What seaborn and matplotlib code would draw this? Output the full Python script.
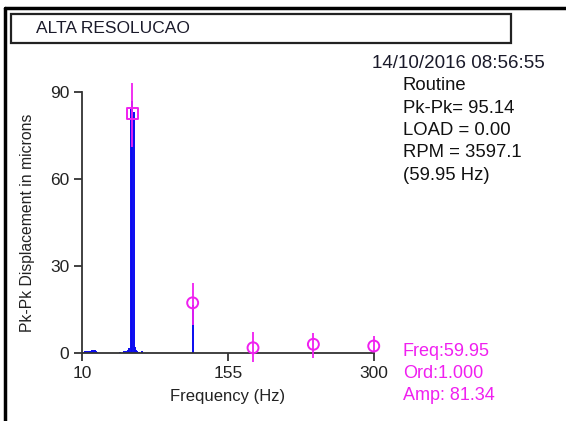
import matplotlib
matplotlib.use("Agg")
import matplotlib.pyplot as plt
import seaborn as sns
import numpy as np
from matplotlib.patches import Rectangle
from matplotlib.lines import Line2D

# ---- data ----
spec_freq = [11, 12, 13, 14, 15, 16, 17, 18, 19, 20, 21, 22, 23, 24, 25,
             48, 52, 54, 56, 57, 58.6, 59.95, 61.3, 62.5, 63.5, 65, 67, 70,
             119.9]
spec_amp = [0.5, 0.4, 0.6, 0.5, 0.7, 0.5, 0.6, 0.8, 0.6, 0.9, 0.7, 0.9, 1.0, 0.6, 0.5,
            0.3, 0.8, 0.6, 1.2, 1.8, 84.0, 87.0, 83.0, 2.0, 1.0, 0.8, 0.5, 0.6,
            16.5]
harm_freq = [59.95, 119.9, 179.85, 239.8, 299.75]
harm_amp = [82.5, 17.3, 1.8, 3.0, 2.4]
harm_low = [71.0, 9.6, -3.0, -1.6, 0.4]
harm_high = [93.0, 24.2, 7.3, 7.0, 5.9]
harm_marker = ["s", "o", "o", "o", "o"]
xticks = [10, 155, 300]
yticks = [0, 30, 60, 90]
title = "ALTA RESOLUCAO"
info_date = "14/10/2016 08:56:55"
info_lines = ["Routine", "Pk-Pk= 95.14", "LOAD = 0.00", "RPM = 3597.1", "(59.95 Hz)"]
cursor_lines = ["Freq:59.95", "Ord:1.000", "Amp: 81.34"]

sns.set_style("white")
plt.rcParams['font.family'] = ['Liberation Sans', 'DejaVu Sans']

W, H = 566, 421
fig = plt.figure(figsize=(W / 100, H / 100), dpi=100)

def fx(px):
    return px / W

def fy(py):
    return 1 - py / H

# axes: x 10->82px, 300->374px ; y 0->353px, 90->92px
ymax = 96
px_per_unit = (353 - 92) / 90
ax = fig.add_axes([fx(82), fy(353), (374 - 82) / W, ymax * px_per_unit / H])
ax.set_xlim(10, 300)
ax.set_ylim(0, ymax)
ax.patch.set_alpha(0)

blue = "#0a0af0"
mag = "#f020f0"

ax.vlines(spec_freq, 0, spec_amp, color=blue, linewidth=1.4, zorder=2)
ax.vlines(harm_freq, harm_low, harm_high, color=mag, linewidth=1.3, zorder=3, clip_on=False)
for f, a, m in zip(harm_freq, harm_amp, harm_marker):
    sns.scatterplot(x=[f], y=[a], marker=m, s=64 if m == "s" else 62,
                    facecolor="none", edgecolor=mag, linewidth=1.4, ax=ax,
                    zorder=4, clip_on=False, legend=False)

for s in ["top", "right"]:
    ax.spines[s].set_visible(False)
for s in ["left", "bottom"]:
    ax.spines[s].set_color("#333333")
    ax.spines[s].set_linewidth(1.3)
ax.spines["left"].set_bounds(0, 90)
ax.spines["bottom"].set_bounds(10, 300)
ax.set_xticks(xticks)
ax.set_yticks(yticks)
ax.set_xticklabels([str(v) for v in xticks])
ax.set_yticklabels([str(v) for v in yticks])
ax.tick_params(axis="both", direction="out", length=6, width=1.3, color="#333333",
               labelsize=12.5, labelcolor="#222222", pad=3, left=True, bottom=True)
ax.set_xlabel("Frequency (Hz)", fontsize=12, color="#222222", labelpad=6)
ax.set_ylabel("Pk-Pk Displacement in microns", fontsize=11.3, color="#222222")
ax.yaxis.set_label_coords(-0.16, 45 / ymax)

# outer frame
fig.add_artist(Line2D([fx(5), fx(566)], [fy(8), fy(8)], color="black", linewidth=2.5,
                      transform=fig.transFigure))
fig.add_artist(Line2D([fx(5), fx(5)], [fy(8), fy(421)], color="black", linewidth=2.5,
                      transform=fig.transFigure))
# title box
fig.add_artist(Rectangle((fx(11), fy(43)), fx(511) - fx(11), fy(14) - fy(43),
                         transform=fig.transFigure, facecolor="white",
                         edgecolor="#222222", linewidth=1.6))
fig.text(fx(36), fy(28.5), title, fontsize=12.5, color="#1a1a2a", va="center", ha="left")

fig.text(fx(372), fy(63), info_date, fontsize=13.5, color="#1a1a2a", va="center", ha="left")
for i, t in enumerate(info_lines):
    fig.text(fx(403), fy(86 + i * 22.3), t, fontsize=13.3, color="#111111", va="center", ha="left")
for i, t in enumerate(cursor_lines):
    fig.text(fx(403), fy(352 + i * 22), t, fontsize=13, color=mag, va="center", ha="left")

fig.savefig("out.png", dpi=100)
